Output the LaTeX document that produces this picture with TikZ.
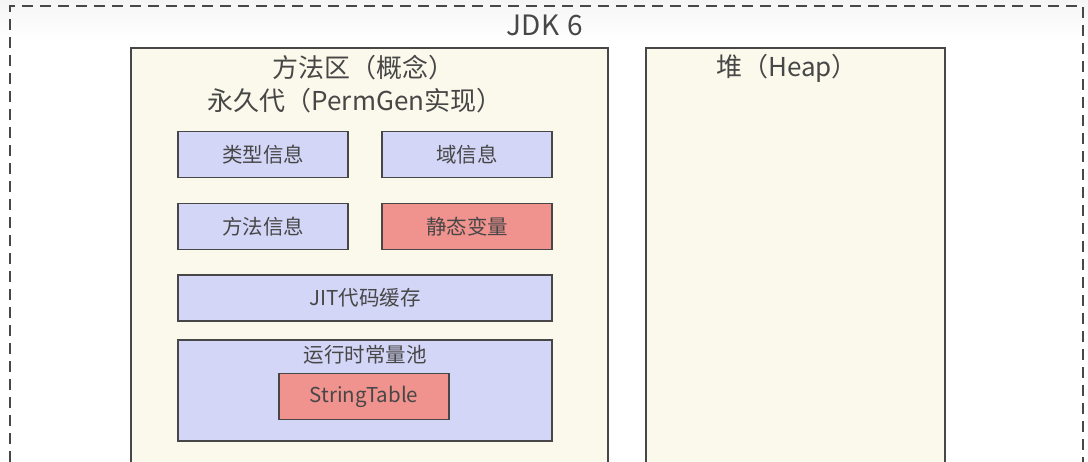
\documentclass[tikz,border=0pt]{standalone}
\usepackage{fontspec}
\setmainfont{Noto Sans CJK SC}
\begin{document}
\begin{tikzpicture}[x=1pt,y=-1pt,
  txt/.style={text=black!72},
  region/.style={draw=black!72, line width=1.6pt, fill=cream, anchor=north west, inner sep=0pt},
  infobox/.style={draw=black!72, line width=1.6pt, fill=lavender, minimum height=46pt, inner sep=0pt, font=\fontsize{20.5}{24}\selectfont, txt},
  hotbox/.style={infobox, fill=salmon},
  title/.style={font=\fontsize{26}{30}\selectfont, txt, inner sep=0pt}
]
\definecolor{cream}{HTML}{FAF9EC}
\definecolor{lavender}{HTML}{D3D6F7}
\definecolor{salmon}{HTML}{F0928E}
\useasboundingbox (0,0) rectangle (1088,461);
\clip (0,0) rectangle (1088,461);
\fill[white] (0,0) rectangle (1088,461);
\shade[top color=black!4, bottom color=white] (0,0) rectangle (1088,40);

% JDK frame
\draw[black!72, line width=2pt, dash pattern=on 11pt off 7pt] (10,480) -- (10,6) -- (1083,6) -- (1083,480);
\node[title, font=\fontsize{28}{32}\selectfont] (jdk) at (545,25) {JDK\hspace{0.3em}6};

% method area / permanent generation
\node[region, minimum width=477pt, minimum height=430pt] (perm) at (130,47) {};
\node[title] (permt1) at (363,68) {方法区（概念）};
\node[title] (permt2) at (355,101) {永久代（PermGen实现）};

\node[infobox, minimum width=170pt] (typeinfo) at (263,154.5) {类型信息};
\node[infobox, minimum width=170pt] (fieldinfo) at (467,154.5) {域信息};
\node[infobox, minimum width=170pt] (methodinfo) at (263,226.5) {方法信息};
\node[hotbox, minimum width=170pt] (staticvars) at (467,226.5) {静态变量};
\node[infobox, minimum width=374pt] (jit) at (365,298) {JIT代码缓存};

\node[infobox, minimum width=374pt, minimum height=101pt] (pool) at (365,390.5) {};
\node[txt, font=\fontsize{20.5}{24}\selectfont, inner sep=0pt] (poolt) at (365,355) {运行时常量池};
\node[hotbox, minimum width=170pt] (strtab) at (364,396.5) {StringTable};

% heap
\node[region, minimum width=299pt, minimum height=430pt] (heap) at (645,47) {};
\node[title] (heapt) at (787,68) {堆（Heap）};
\end{tikzpicture}
\end{document}
